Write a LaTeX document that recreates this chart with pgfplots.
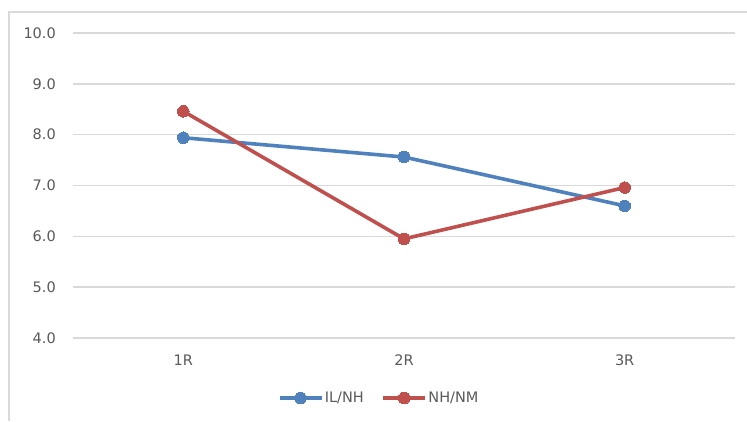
\documentclass[border=0pt]{standalone}
\usepackage{pgfplots}
\pgfplotsset{compat=1.18}
\usepackage{fontspec}
\setmainfont{DejaVu Sans}
\definecolor{serA}{HTML}{4F81BD}
\definecolor{serB}{HTML}{C0504D}
\definecolor{gridc}{HTML}{D9D9D9}
\definecolor{txt}{HTML}{595959}
\begin{document}
\begin{tikzpicture}
  % page frame and chart border
  \useasboundingbox (0pt,0pt) rectangle (747pt,421pt);
  \draw[gridc, line width=1.4pt] (9pt,0pt) -- (9pt,409pt) -- (748pt,409pt);
  \begin{axis}[
    at={(73pt,83pt)}, anchor=south west,
    scale only axis, width=662pt, height=305pt,
    xmin=0.5, xmax=3.5, ymin=4, ymax=10,
    xtick={1,2,3}, xticklabels={1R,2R,3R},
    ytick={4,5,6,7,8,9,10},
    major tick length=0pt,
    axis line style={draw=none},
    ymajorgrids, grid style={gridc, line width=1.4pt},
    tick label style={font=\fontsize{14.5}{17}\selectfont, text=txt},
    yticklabel style={inner sep=0pt, xshift=-17pt},
    xticklabel style={inner sep=0pt, yshift=-17pt},
    /pgf/number format/assume math mode=true,
    yticklabel={\pgfmathprintnumber[fixed, fixed zerofill, precision=1]{\tick}},
    legend columns=2,
    legend style={draw=none, fill=none, at={(0.462,-0.197)}, anchor=center,
      font=\fontsize{14.5}{17}\selectfont, text=txt,
      nodes={inner sep=1.5pt},
      /tikz/every even column/.append style={column sep=16pt}},
    legend image code/.code={\draw[mark repeat=2, mark phase=2, #1]
      plot coordinates {(0pt,0pt) (21pt,0pt) (42pt,0pt)};},
  ]
    \addplot[serA, line width=3.6pt, mark=*, mark size=5.8pt, mark options={line width=0pt}]
      coordinates {(1,7.94) (2,7.56) (3,6.60)};
    \addlegendentry{IL/NH}
    \addplot[serB, line width=3.6pt, mark=*, mark size=5.8pt, mark options={line width=0pt}]
      coordinates {(1,8.46) (2,5.95) (3,6.96)};
    \addlegendentry{NH/NM}
  \end{axis}
\end{tikzpicture}
\end{document}
